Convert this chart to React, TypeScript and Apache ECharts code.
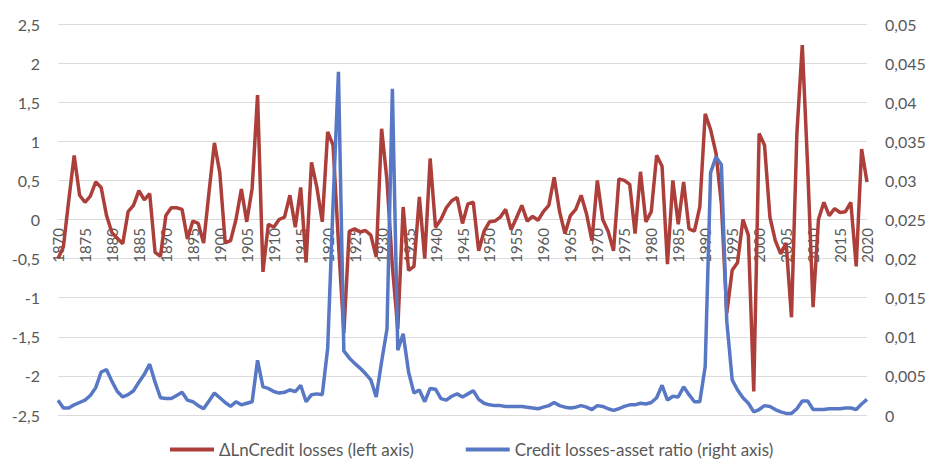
import React, { useEffect, useRef } from "react";
import * as echarts from "echarts";

const years: string[] = [];
for (let y = 1870; y <= 2020; y++) years.push(String(y));

// ΔLnCredit losses (left axis), 1870–2020
const creditLossChange = [
  -0.5, -0.35, 0.25, 0.82, 0.31, 0.22, 0.3, 0.48, 0.41, 0.05,
  -0.17, -0.24, -0.31, 0.1, 0.18, 0.37, 0.25, 0.33, -0.42, -0.47,
  0.05, 0.15, 0.15, 0.13, -0.25, -0.02, -0.05, -0.3, 0.35, 0.98,
  0.6, -0.3, -0.27, 0.0, 0.39, -0.03, 0.4, 1.59, -0.67, -0.06,
  -0.1, 0.0, 0.03, 0.31, -0.1, 0.41, -0.55, 0.73, 0.41, -0.03,
  1.12, 0.95, -0.3, -1.45, -0.15, -0.12, -0.16, -0.14, -0.2, -0.48,
  1.16, 0.5, -0.6, -1.4, 0.16, -0.65, -0.6, 0.29, -0.5, 0.78,
  -0.1, 0.0, 0.15, 0.24, 0.28, -0.05, 0.2, 0.22, -0.4, -0.15,
  -0.03, -0.02, 0.03, 0.13, -0.13, 0.02, 0.18, -0.02, 0.04, -0.01,
  0.1, 0.18, 0.54, 0.1, -0.18, 0.05, 0.13, 0.31, 0.07, -0.27,
  0.5, 0.0, -0.15, -0.4, 0.52, 0.5, 0.45, -0.18, 0.61, -0.03,
  0.1, 0.82, 0.68, -0.57, 0.5, -0.06, 0.48, -0.12, -0.15, 0.16,
  1.35, 1.15, 0.85, 0.2, -1.2, -0.65, -0.55, 0.0, -0.2, -2.2,
  1.1, 0.95, 0.03, -0.27, -0.44, -0.3, -1.25, 1.1, 2.23, 0.67,
  -1.12, 0.0, 0.22, 0.05, 0.14, 0.09, 0.1, 0.22, -0.6, 0.9,
  0.48,
];

// Credit losses-asset ratio (right axis), 1870–2020
const lossAssetRatio = [
  0.0019, 0.0009, 0.0009, 0.0013, 0.0016, 0.0019, 0.0025, 0.0035, 0.0055, 0.0058,
  0.0043, 0.003, 0.0023, 0.0026, 0.0031, 0.0042, 0.0052, 0.0065, 0.0042, 0.0022,
  0.0021, 0.0021, 0.0025, 0.0029, 0.0019, 0.0017, 0.0012, 0.0008, 0.0018, 0.0028,
  0.0022, 0.0016, 0.0011, 0.0017, 0.0013, 0.0015, 0.0017, 0.007, 0.0036, 0.0034,
  0.003, 0.0028, 0.0029, 0.0032, 0.003, 0.0038, 0.0017, 0.0026, 0.0027, 0.0026,
  0.0085, 0.027, 0.0439, 0.0082, 0.0073, 0.0066, 0.006, 0.0053, 0.0045, 0.0023,
  0.0068, 0.011, 0.0417, 0.0083, 0.0104, 0.0055, 0.0028, 0.0032, 0.0017, 0.0034,
  0.0033, 0.0021, 0.0019, 0.0024, 0.0027, 0.0023, 0.0027, 0.0031, 0.002, 0.0015,
  0.0013, 0.0012, 0.0012, 0.0011, 0.0011, 0.0011, 0.0011, 0.001, 0.0009, 0.0008,
  0.001, 0.0012, 0.0016, 0.0012, 0.001, 0.0009, 0.001, 0.0012, 0.001, 0.0007,
  0.0012, 0.0011, 0.0008, 0.0006, 0.0008, 0.0011, 0.0013, 0.0013, 0.0015, 0.0014,
  0.0016, 0.0022, 0.0038, 0.0019, 0.0024, 0.0023, 0.0036, 0.0026, 0.0017, 0.0017,
  0.0062, 0.031, 0.033, 0.032, 0.012, 0.0045, 0.0032, 0.0022, 0.0015, 0.0004,
  0.0007, 0.0012, 0.0011, 0.0007, 0.0004, 0.0002, 0.0002, 0.0008, 0.0018, 0.0018,
  0.0007, 0.0007, 0.0007, 0.0008, 0.0008, 0.0008, 0.0009, 0.0009, 0.0007, 0.0014,
  0.002,
];

const seriesNames = [
  "ΔLnCredit losses (left axis)",
  "Credit losses-asset ratio (right axis)",
];

const RED = "#ad3f3b";
const BLUE = "#5878c6";
const FONT = "Lato";
const TXT = "#595959";

const comma = (v: number) => String(Number(v.toFixed(4))).replace(".", ",");

export default function App() {
  const ref = useRef<HTMLDivElement>(null);
  useEffect(() => {
    if (!ref.current) return;
    const chart = echarts.init(ref.current, undefined, { renderer: "svg" });
    chart.setOption({
      animation: false,
      backgroundColor: "#ffffff",
      textStyle: { fontFamily: FONT },
      grid: { left: 58, right: 64, top: 24, bottom: 48 },
      legend: {
        bottom: 0,
        left: 165,
        icon: "rect",
        itemWidth: 44,
        itemHeight: 4,
        itemGap: 52,
        textStyle: { fontFamily: FONT, fontSize: 17, color: TXT },
        data: seriesNames,
      },
      xAxis: {
        type: "category",
        data: years,
        boundaryGap: false,
        position: "bottom",
        offset: -196,
        axisTick: { show: false },
        axisLine: {
          onZero: false,
          lineStyle: { color: "#d9d9d9", width: 1 },
        },
        axisLabel: {
          interval: 4,
          rotate: 90,
          margin: 9,
          fontFamily: FONT,
          fontSize: 15,
          color: TXT,
        },
        splitLine: { show: false },
      },
      yAxis: [
        {
          type: "value",
          min: -2.5,
          max: 2.5,
          interval: 0.5,
          axisLine: { show: false, onZero: false },
          axisTick: { show: false },
          axisLabel: {
            margin: 18,
            fontFamily: FONT,
            fontSize: 16,
            color: TXT,
            formatter: (v: number) => comma(v),
          },
          splitLine: { lineStyle: { color: "#dcdcdc", width: 1 } },
        },
        {
          type: "value",
          min: 0,
          max: 0.05,
          interval: 0.005,
          position: "right",
          axisLine: { show: false, onZero: false },
          axisTick: { show: false },
          axisLabel: {
            margin: 18,
            fontFamily: FONT,
            fontSize: 16,
            color: TXT,
            formatter: (v: number) => comma(v),
          },
          splitLine: { show: false },
        },
      ],
      series: [
        {
          name: seriesNames[0],
          type: "line",
          yAxisIndex: 0,
          data: creditLossChange,
          symbol: "none",
          lineStyle: { color: RED, width: 3.5 },
          itemStyle: { color: RED },
          z: 2,
        },
        {
          name: seriesNames[1],
          type: "line",
          yAxisIndex: 1,
          data: lossAssetRatio,
          symbol: "none",
          lineStyle: { color: BLUE, width: 3.5 },
          itemStyle: { color: BLUE },
          z: 3,
        },
      ],
    });
    return () => chart.dispose();
  }, []);
  return (
    <div
      ref={ref}
      style={{ position: "fixed", left: 0, top: 0, width: 931, height: 463 }}
    />
  );
}
